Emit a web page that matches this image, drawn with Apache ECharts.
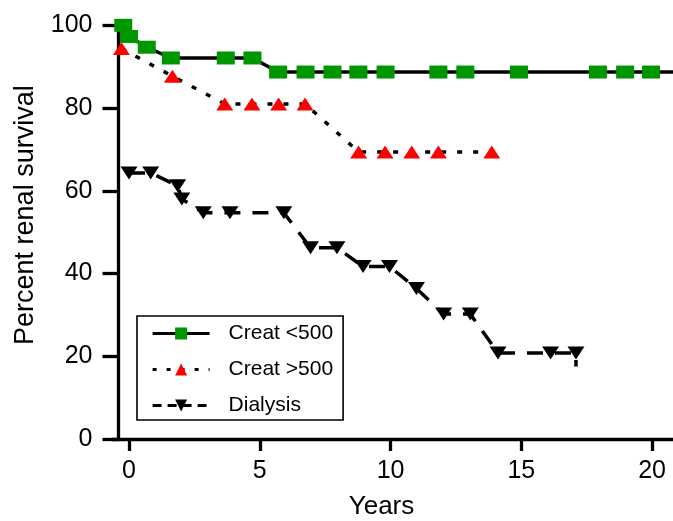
<!DOCTYPE html>
<html>
<head>
<meta charset="utf-8">
<script src="https://cdn.jsdelivr.net/npm/echarts@6/dist/echarts.min.js"></script>
<style>
  html, body { margin: 0; padding: 0; background: #fff; }
  #chart { width: 673px; height: 521px; }
</style>
</head>
<body>
<div id="chart"></div>
<script>
// Kaplan-Meier renal survival by group (years, percent surviving)
const creatLowYears = [-0.22, 0, 0.68, 1.6, 3.7, 4.72, 5.7, 6.75, 7.78, 8.77, 9.81, 11.83, 12.86, 14.91, 17.93, 18.97, 19.96];
const creatLowValues = [100, 97.3, 94.7, 92.1, 92.1, 92.1, 88.7, 88.7, 88.7, 88.7, 88.7, 88.7, 88.7, 88.7, 88.7, 88.7, 88.7];
const creatLowEnd = [20.8, 88.7];

const creatHighYears = [-0.29, 1.66, 3.66, 4.70, 5.72, 6.73, 8.78, 9.79, 10.81, 11.83, 13.87];
const creatHighValues = [94.4, 87.7, 81.0, 81.0, 81.0, 81.0, 69.4, 69.4, 69.4, 69.4, 69.4];

const dialysisYears = [0, 0.83, 1.86, 2.02, 2.84, 3.86, 5.92, 6.94, 7.95, 8.95, 9.96, 10.99, 12.03, 13.05, 14.11, 16.12, 17.09];
const dialysisValues = [64.3, 64.3, 61.2, 58.0, 54.7, 54.7, 54.7, 46.2, 46.2, 41.7, 41.7, 36.4, 30.2, 30.2, 20.8, 20.8, 20.8];
const dialysisEnd = [17.09, 17.5];

const seriesNames = ['Creat <500', 'Creat >500', 'Dialysis'];
const xTicks = [0, 5, 10, 15, 20];
const yTicks = [0, 20, 40, 60, 80, 100];

const FONT = "'Liberation Sans', Arial, Helvetica, sans-serif";

function points(xs, ys, end) {
  const pts = xs.map((x, i) => [x, ys[i]]);
  if (end) pts.push({ value: end, symbol: 'none' });
  return pts;
}

const chart = echarts.init(document.getElementById('chart'), null, { renderer: 'canvas' });

chart.setOption({
  animation: false,
  backgroundColor: '#ffffff',
  textStyle: { fontFamily: FONT, color: '#000' },
  grid: { left: 112, right: 0, top: 25.3, bottom: 82, containLabel: false, outerBoundsMode: 'none' },
  xAxis: {
    type: 'value',
    min: -0.65,
    max: 20.8,
    name: 'Years',
    nameLocation: 'middle',
    nameGap: 55,
    nameTextStyle: { fontFamily: FONT, fontSize: 26, color: '#000', padding: [0, 22, 0, 0] },
    axisLine: { show: true, onZero: false, lineStyle: { color: '#000', width: 3.3 } },
    axisTick: { show: true, length: 12, lineStyle: { color: '#000', width: 3.3 }, customValues: xTicks },
    axisLabel: { fontFamily: FONT, fontSize: 25, color: '#000', margin: 20, customValues: xTicks },
    splitLine: { show: false }
  },
  yAxis: {
    type: 'value',
    min: yTicks[0],
    max: yTicks[yTicks.length - 1],
    interval: 20,
    offset: -6.5,
    name: 'Percent renal survival',
    nameLocation: 'middle',
    nameGap: 79,
    nameTextStyle: { fontFamily: FONT, fontSize: 27, color: '#000', padding: [0, 0, 0, 34] },
    axisLine: { show: true, onZero: false, lineStyle: { color: '#000', width: 3.3 } },
    axisTick: { show: true, length: 16, lineStyle: { color: '#000', width: 3.3 } },
    axisLabel: { fontFamily: FONT, fontSize: 25, color: '#000', margin: 26 },
    splitLine: { show: false }
  },
  legend: {
    orient: 'vertical',
    left: 137,
    top: 316,
    data: [
      { name: seriesNames[0] },
      { name: seriesNames[1], lineStyle: { type: [4, 10] } },
      { name: seriesNames[2], lineStyle: { type: [9, 6] } }
    ],
    itemWidth: 57,
    itemHeight: 15,
    itemGap: 15,
    padding: [7, 10, 4, 14],
    borderColor: '#000',
    borderWidth: 1.6,
    backgroundColor: '#fff',
    lineStyle: { width: 3.2 },
    textStyle: { fontFamily: FONT, fontSize: 21, color: '#000', padding: [0, 0, 0, 14] }
  },
  series: [
    {
      name: seriesNames[0],
      type: 'line',
      data: points(creatLowYears, creatLowValues, creatLowEnd),
      symbol: 'rect',
      symbolSize: [18, 13],
      itemStyle: { color: '#009600' },
      lineStyle: { color: '#000', width: 3.5 },
      clip: false,
      z: 3
    },
    {
      name: seriesNames[1],
      type: 'line',
      data: points(creatHighYears, creatHighValues),
      symbol: 'triangle',
      symbolSize: [17, 13],
      itemStyle: { color: '#ff0000' },
      lineStyle: { color: '#000', width: 3.5, type: [5, 11] },
      clip: false,
      z: 2
    },
    {
      name: seriesNames[2],
      type: 'line',
      data: points(dialysisYears, dialysisValues, dialysisEnd),
      symbol: 'triangle',
      symbolRotate: 180,
      symbolSize: [17, 13],
      itemStyle: { color: '#000' },
      lineStyle: { color: '#000', width: 3.5, type: [16, 12] },
      clip: false,
      z: 2
    }
  ]
});
</script>
</body>
</html>
